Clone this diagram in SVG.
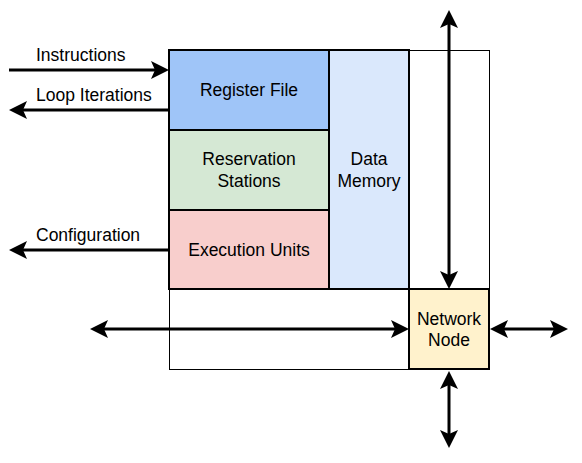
<svg xmlns="http://www.w3.org/2000/svg" width="582" height="463" viewBox="0 0 582 463">
<style>
.box{stroke:#000;stroke-width:2}
.lbl{font-family:"Liberation Sans",Arial,sans-serif;font-size:17.5px;fill:#000}
.c{text-anchor:middle}
.conn{stroke:#000;stroke-width:3;fill:none}
</style>
<defs>
<marker id="ah" viewBox="0 0 18 18" refX="12" refY="9" markerWidth="18" markerHeight="18" markerUnits="userSpaceOnUse" orient="auto-start-reverse">
<path d="M0,0 L18,9 L0,18 L4,9 Z" fill="#000"/>
</marker>
</defs>
<rect x="169.5" y="50.5" width="320" height="319" fill="#fff" stroke="#000" stroke-width="1"/>
<g id="register-file">
<rect class="box" x="169" y="50" width="160" height="80" fill="#9fc5f8"/>
<text class="lbl c" x="249" y="95.5">Register File</text>
</g>
<g id="reservation-stations">
<rect class="box" x="169" y="130" width="160" height="80" fill="#d5e8d4"/>
<text class="lbl c" x="249" y="165">Reservation</text>
<text class="lbl c" x="249" y="186.5">Stations</text>
</g>
<g id="execution-units">
<rect class="box" x="169" y="210" width="160" height="79" fill="#f8cecc"/>
<text class="lbl c" x="249" y="255.5">Execution Units</text>
</g>
<g id="data-memory">
<rect class="box" x="329" y="50" width="80" height="239" fill="#dae8fc"/>
<text class="lbl c" x="369" y="165">Data</text>
<text class="lbl c" x="369" y="186.5">Memory</text>
</g>
<g id="network-node">
<rect class="box" x="409" y="289" width="80" height="80" fill="#fff2cc"/>
<text class="lbl c" x="449" y="324.5">Network</text>
<text class="lbl c" x="449" y="346">Node</text>
</g>
<g id="connectors">
<line class="conn" x1="9" y1="70" x2="163" y2="70" marker-end="url(#ah)"/>
<line class="conn" x1="169" y1="110" x2="15" y2="110" marker-end="url(#ah)"/>
<line class="conn" x1="169" y1="250" x2="15" y2="250" marker-end="url(#ah)"/>
<line class="conn" x1="449" y1="16" x2="449" y2="283" marker-start="url(#ah)" marker-end="url(#ah)"/>
<line class="conn" x1="96" y1="329" x2="403" y2="329" marker-start="url(#ah)" marker-end="url(#ah)"/>
<line class="conn" x1="496" y1="329" x2="562" y2="329" marker-start="url(#ah)" marker-end="url(#ah)"/>
<line class="conn" x1="449" y1="377" x2="449" y2="442" marker-start="url(#ah)" marker-end="url(#ah)"/>
</g>
<g id="labels">
<text class="lbl" x="36" y="60.5">Instructions</text>
<text class="lbl" x="36" y="101">Loop Iterations</text>
<text class="lbl" x="36" y="240.5">Configuration</text>
</g>
</svg>
